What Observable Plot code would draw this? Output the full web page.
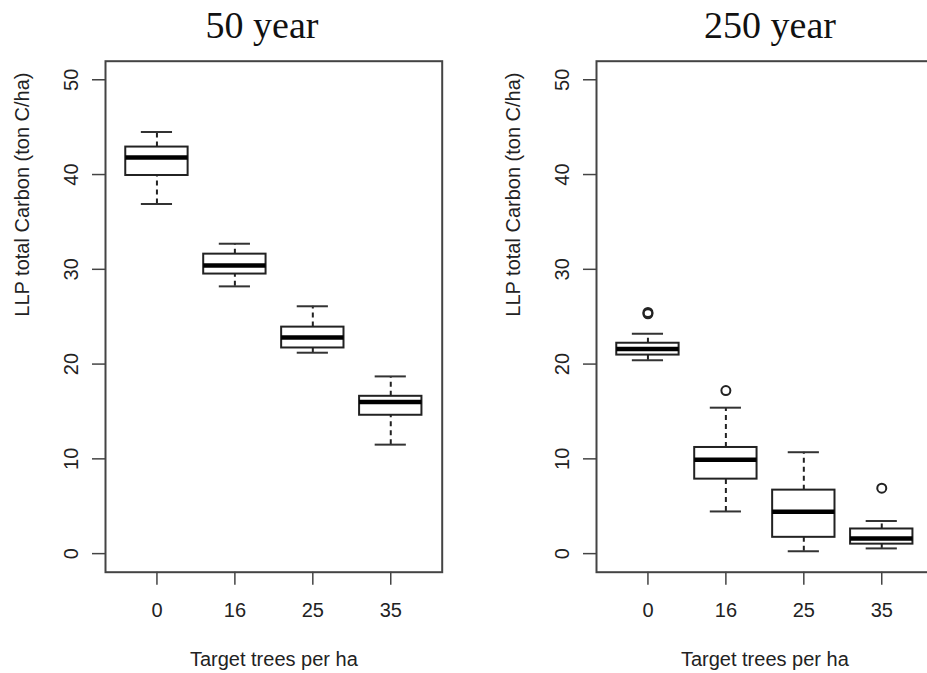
<!DOCTYPE html>
<html>
<head>
<meta charset="utf-8">
<script src="https://cdn.jsdelivr.net/npm/d3@7"></script>
<script src="https://cdn.jsdelivr.net/npm/@observablehq/plot@0.6"></script>
<style>
  html, body { margin: 0; padding: 0; background: #fff; }
  #wrap { position: relative; width: 927px; height: 673px; overflow: hidden; background: #fff; }
  .panel { position: absolute; top: 0; width: 463px; height: 673px; }
  .panel svg { max-width: none !important; width: 463px; height: 673px; display: block; }
  .title { position: absolute; top: 6px; width: 300px; text-align: center;
           font-family: "Liberation Serif", "Times New Roman", serif; font-size: 38px;
           line-height: 38px; color: #111; }
</style>
</head>
<body>
<div id="wrap"></div>
<script>
// ---- data ----
const categories = ["0", "16", "25", "35"];
const yTicks = [0, 10, 20, 30, 40, 50];
const titles = ["50 year", "250 year"];
const xLabel = "Target trees per ha";
const yLabel = "LLP total Carbon (ton C/ha)";

// 50 year: whisker min, Q1, median, Q3, whisker max
const min50 = [36.9, 28.2, 21.2, 11.5];
const q1_50 = [39.9, 29.5, 21.7, 14.6];
const med50 = [41.8, 30.4, 22.8, 16.0];
const q3_50 = [42.9, 31.6, 23.9, 16.6];
const max50 = [44.5, 32.7, 26.1, 18.7];
const outCat50 = [];
const outVal50 = [];

// 250 year
const min250 = [20.4, 4.45, 0.25, 0.55];
const q1_250 = [20.95, 7.86, 1.72, 1.0];
const med250 = [21.6, 9.9, 4.42, 1.6];
const q3_250 = [22.2, 11.2, 6.7, 2.6];
const max250 = [23.2, 15.4, 10.7, 3.44];
const outCat250 = ["0", "0", "16", "35"];
const outVal250 = [25.3, 25.45, 17.2, 6.9];

function makePanel(mins, q1s, meds, q3s, maxs, outCats, outVals) {
  const boxes = categories.map((c, i) => ({
    x: i + 1, cat: c, min: mins[i], q1: q1s[i], med: meds[i], q3: q3s[i], max: maxs[i]
  }));
  const outliers = outCats.map((c, i) => ({ x: categories.indexOf(c) + 1, v: outVals[i] }));
  const halfBox = 0.4, halfCap = 0.2;
  const ink = "#222";
  return Plot.plot({
    width: 463,
    height: 673,
    marginLeft: 105,
    marginRight: 21.3,
    marginTop: 60.7,
    marginBottom: 101.3,
    x: { type: "linear", domain: [0.34, 4.66] },
    y: { domain: [-1.96, 51.96] },
    style: { fontFamily: "'Liberation Sans', Arial, sans-serif", fontSize: "20px", color: "#222", background: "white", overflow: "visible" },
    marks: [
      Plot.axisY({ ticks: yTicks, tickSize: 13, tickPadding: 15, tickRotate: -90, label: null, stroke: "#444", strokeWidth: 1.5 }),
      Plot.axisX({ ticks: [1, 2, 3, 4], tickFormat: i => categories[i - 1], tickSize: 13, tickPadding: 18, label: null, stroke: "#444", strokeWidth: 1.5 }),
      // whiskers (dashed)
      Plot.ruleX(boxes, { x: "x", y1: "q3", y2: "max", stroke: ink, strokeWidth: 2, strokeDasharray: "5,4" }),
      Plot.ruleX(boxes, { x: "x", y1: "min", y2: "q1", stroke: ink, strokeWidth: 2, strokeDasharray: "5,4" }),
      // staples
      Plot.ruleY(boxes, { y: "max", x1: d => d.x - halfCap, x2: d => d.x + halfCap, stroke: "#333", strokeWidth: 2 }),
      Plot.ruleY(boxes, { y: "min", x1: d => d.x - halfCap, x2: d => d.x + halfCap, stroke: "#333", strokeWidth: 2 }),
      // boxes
      Plot.rect(boxes, { x1: d => d.x - halfBox, x2: d => d.x + halfBox, y1: "q1", y2: "q3", fill: "white", stroke: ink, strokeWidth: 2 }),
      // medians
      Plot.ruleY(boxes, { y: "med", x1: d => d.x - halfBox, x2: d => d.x + halfBox, stroke: "#000", strokeWidth: 4.5 }),
      // outliers
      Plot.dot(outliers, { x: "x", y: "v", r: 4.5, fill: "none", stroke: ink, strokeWidth: 2 }),
      Plot.frame({ stroke: "#444", strokeWidth: 2 }),
      // axis titles
      Plot.text([xLabel], { text: d => d, frameAnchor: "bottom", lineAnchor: "top", dy: 80, fontSize: 20, fill: "#222" }),
      Plot.text([yLabel], { text: d => d, frameAnchor: "left", rotate: -90, dx: -83, fontSize: 20, fill: "#222" })
    ]
  });
}

const wrap = document.getElementById("wrap");
const panels = [
  { left: 0, titleX: 262, chart: makePanel(min50, q1_50, med50, q3_50, max50, outCat50, outVal50) },
  { left: 491, titleX: 770, chart: makePanel(min250, q1_250, med250, q3_250, max250, outCat250, outVal250) }
];
panels.forEach((p, k) => {
  const div = document.createElement("div");
  div.className = "panel";
  div.style.left = p.left + "px";
  div.appendChild(p.chart);
  wrap.appendChild(div);
  const t = document.createElement("div");
  t.className = "title";
  t.style.left = (p.titleX - 150) + "px";
  t.textContent = titles[k];
  wrap.appendChild(t);
});
</script>
</body>
</html>
